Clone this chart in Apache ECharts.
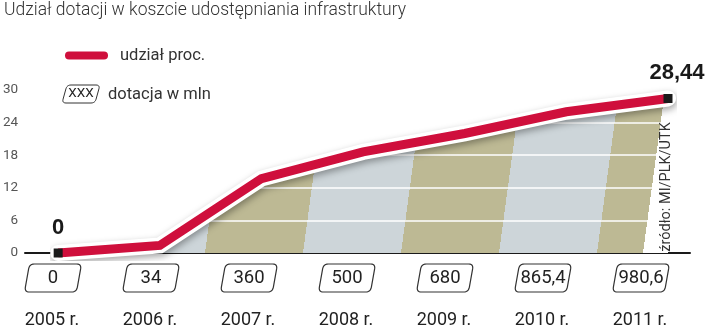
<!DOCTYPE html>
<html>
<head>
<meta charset="utf-8">
<script src="https://cdn.jsdelivr.net/npm/echarts@6.0.0/dist/echarts.min.js"></script>
<style>
  html, body { margin: 0; padding: 0; background: #fff; }
  #chart { width: 720px; height: 331px; }
</style>
</head>
<body>
<div id="chart"></div>
<script>
// Data
const years = ['2005', '2006', '2007', '2008', '2009', '2010', '2011'];
const sharePct = [0, 1.4, 13.7, 18.6, 22.0, 26.0, 28.44];      // udział proc.
const subsidyMln = [0, 34, 360, 500, 680, 865.4, 980.6];       // dotacja w mln
const yTicks = [0, 6, 12, 18, 24, 30];

// Styling
const RED = '#cf0f3c';
const OLIVE = '#bdb994';
const STEEL = '#cdd5d9';
const INK = '#1a1a1a';
const NARROW = '"Liberation Sans Narrow", "Arial Narrow", sans-serif';
const SANS = 'Roboto, "Noto Sans", sans-serif';

const fmt = v => String(v).replace('.', ',');

// Rounded, slanted box outline as polygon points
function slantedBox(cx, cy, w, h, slant, r) {
  const hw = w / 2, hh = h / 2, s = slant / 2;
  const corners = [[cx - hw + s, cy - hh], [cx + hw + s, cy - hh], [cx + hw - s, cy + hh], [cx - hw - s, cy + hh]];
  const pts = [];
  for (let i = 0; i < 4; i++) {
    const c = corners[i], p = corners[(i + 3) % 4], n = corners[(i + 1) % 4];
    const toward = (a, d) => {
      const dx = a[0] - c[0], dy = a[1] - c[1], L = Math.hypot(dx, dy);
      return [c[0] + dx / L * d, c[1] + dy / L * d];
    };
    const a = toward(p, r), b = toward(n, r);
    for (let k = 0; k <= 6; k++) {
      const t = k / 6, u = 1 - t;
      pts.push([u * u * a[0] + 2 * u * t * c[0] + t * t * b[0], u * u * a[1] + 2 * u * t * c[1] + t * t * b[1]]);
    }
  }
  return pts;
}

const chart = echarts.init(document.getElementById('chart'), null, { renderer: 'canvas' });

const lastIdx = sharePct.length - 1;

const option = {
  animation: false,
  backgroundColor: '#fff',
  title: {
    text: 'Udział dotacji w koszcie udostępniania infrastruktury',
    left: 2, top: 0, padding: [2, 2],
    textStyle: { fontSize: 17.5, fontWeight: 300, fontFamily: SANS, color: '#333' }
  },
  legend: {
    data: [{ name: 'udział proc.', icon: 'path://M4 0H39A4 4 0 0 1 39 8H4A4 4 0 0 1 4 0Z' }],
    left: 60, top: 42,
    itemWidth: 43, itemHeight: 8,
    itemStyle: { color: RED, borderWidth: 0 },
    selectedMode: false,
    textStyle: { fontSize: 16.5, color: '#333', fontFamily: SANS, padding: [0, 0, 0, 7] }
  },
  grid: [
    { left: 57, right: 52, top: 90, bottom: 78 },   // line
    { left: 52, right: 80, top: 90, bottom: 78 },   // boxes and years
    { left: 25, right: 30, top: 90, bottom: 78 }    // baseline
  ],
  xAxis: [
    { gridIndex: 0, type: 'category', data: years, boundaryGap: false, show: false },
    {
      gridIndex: 1, type: 'category', data: years, boundaryGap: false,
      axisLine: { show: false }, axisTick: { show: false }, splitLine: { show: false },
      axisLabel: { interval: 0, margin: 58, fontSize: 18, fontFamily: SANS, color: '#222', formatter: v => v + ' r.' }
    },
    {
      gridIndex: 2, type: 'value', min: 0, max: 1,
      axisLine: { show: true, lineStyle: { color: INK, width: 2 } },
      axisTick: { show: false }, axisLabel: { show: false }, splitLine: { show: false }
    }
  ],
  yAxis: [
    {
      gridIndex: 0, type: 'value', min: yTicks[0], max: yTicks[yTicks.length - 1], interval: 6,
      axisLine: { show: false }, axisTick: { show: false }, splitLine: { show: false },
      axisLabel: { margin: 40, fontSize: 13.5, color: '#555', fontFamily: SANS }
    },
    { gridIndex: 1, type: 'value', min: 0, max: 30, show: false },
    { gridIndex: 2, type: 'value', min: 0, max: 1, show: false }
  ],
  graphic: [
    {
      type: 'text', x: 666, y: 187, rotation: Math.PI / 2, z: 20,
      style: { text: 'źródło: MI/PLK/UTK', align: 'center', verticalAlign: 'middle', fontSize: 14.5, fontFamily: SANS, fill: '#333' }
    },
    {
      type: 'polygon', z: 20,
      shape: { points: slantedBox(81, 94, 33, 18, 5, 4) },
      style: { fill: '#fff', stroke: '#333', lineWidth: 1 }
    },
    {
      type: 'text', x: 81, y: 94, z: 21,
      style: { text: 'XXX', align: 'center', verticalAlign: 'middle', fontSize: 13.5, fontFamily: SANS, fill: '#222' }
    },
    {
      type: 'text', x: 108, y: 95, z: 21,
      style: { text: 'dotacja w mln', align: 'left', verticalAlign: 'middle', fontSize: 16.5, fontFamily: SANS, fill: '#333' }
    }
  ],
  series: [
    {
      id: 'area', type: 'line', xAxisIndex: 0, yAxisIndex: 0, z: 1, silent: true,
      data: sharePct, showSymbol: false,
      lineStyle: { width: 0 },
      areaStyle: { color: OLIVE, opacity: 1 },
      markLine: {
        z: 2, silent: true, symbol: 'none', label: { show: false },
        lineStyle: { color: '#fff', width: 1.5, type: 'solid' },
        data: yTicks.filter(t => t > yTicks[0] && t < yTicks[yTicks.length - 1]).map(t => ({ yAxis: t }))
      }
    },
    {
      id: 'casing', type: 'line', xAxisIndex: 0, yAxisIndex: 0, z: 3, silent: true,
      data: sharePct, showSymbol: false,
      lineStyle: {
        color: '#fff', width: 16, cap: 'round', join: 'miter',
        shadowBlur: 7, shadowColor: 'rgba(0,0,0,0.35)', shadowOffsetX: 1, shadowOffsetY: 3
      }
    },
    {
      id: 'share', name: 'udział proc.', type: 'line', xAxisIndex: 0, yAxisIndex: 0, z: 4, silent: true,
      showSymbol: true, showAllSymbol: true, symbolSize: 9,
      itemStyle: { color: INK },
      lineStyle: { color: RED, width: 9, join: 'miter' },
      data: sharePct.map((v, i) => {
        const end = i === 0 || i === lastIdx;
        return {
          value: v,
          symbol: end ? 'rect' : 'none',
          label: {
            show: end, position: 'top', distance: 10,
            offset: i === lastIdx ? [9, 0] : [0, 0],
            fontFamily: NARROW, fontWeight: 'bold', fontSize: 22, color: INK,
            formatter: p => fmt(p.value)
          }
        };
      })
    },
    {
      id: 'boxes', type: 'custom', xAxisIndex: 1, yAxisIndex: 1, z: 5, silent: true, clip: false,
      data: subsidyMln.map((v, i) => [i, v]),
      renderItem: (params, api) => {
        const p = api.coord([api.value(0), 0]);
        const cx = p[0] + 1, cy = p[1] + 25;
        return {
          type: 'group',
          children: [
            { type: 'polygon', shape: { points: slantedBox(cx, cy, 52, 28, 5, 5) }, style: { fill: '#fff', stroke: '#333', lineWidth: 1.2 } },
            { type: 'text', x: cx, y: cy + 0.5, style: { text: fmt(api.value(1)), align: 'center', verticalAlign: 'middle', fontSize: 18.5, fontFamily: SANS, fill: '#222' } }
          ]
        };
      }
    }
  ]
};

chart.setOption(option);

// Slanted alternating bands under the line, one per year on the label axis
const centers = years.map((y, i) => chart.convertToPixel({ xAxisIndex: 1 }, i));
const baseY = chart.convertToPixel({ yAxisIndex: 0 }, 0);
const slant = 0.135, span = 720;
const toOffset = x => Math.max(0, Math.min(1, x / (span * (1 + slant * slant))));
const stops = [];
centers.forEach((c, i) => {
  const color = i % 2 === 0 ? OLIVE : STEEL;
  const start = i === 0 ? 0 : (centers[i - 1] + c) / 2 + 6;
  const end = i === centers.length - 1 ? c + 3 : (c + centers[i + 1]) / 2 + 6;
  stops.push({ offset: toOffset(start), color }, { offset: toOffset(end), color });
});
const tailStart = stops[stops.length - 1].offset;
stops.push({ offset: tailStart, color: '#fff' }, { offset: 1, color: '#fff' });

chart.setOption({
  series: [{
    id: 'area',
    areaStyle: { color: new echarts.graphic.LinearGradient(0, baseY, span, baseY + slant * span, stops, true) }
  }]
});
</script>
</body>
</html>
